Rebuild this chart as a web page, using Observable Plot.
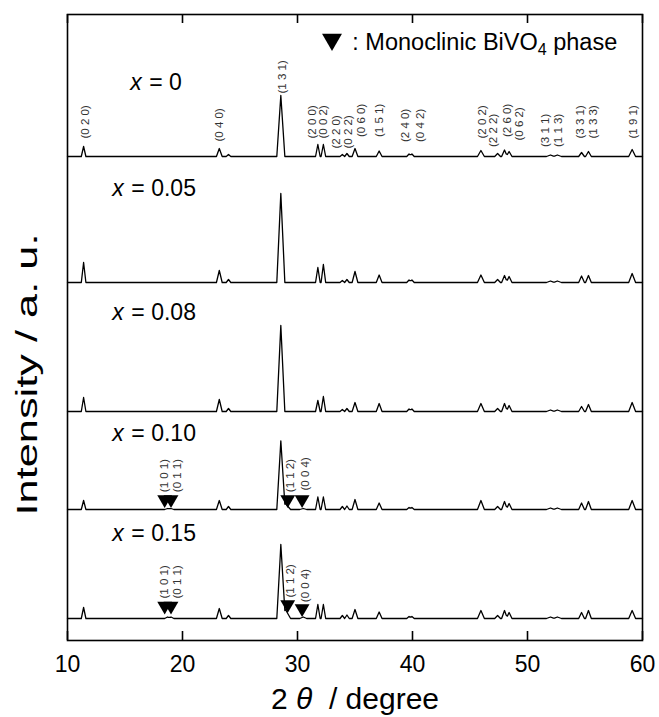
<!DOCTYPE html>
<html>
<head>
<meta charset="utf-8">
<script src="https://cdn.jsdelivr.net/npm/d3@7"></script>
<script src="https://cdn.jsdelivr.net/npm/@observablehq/plot@0.6"></script>
<style>
  body { margin: 0; background: #fff; }
  #chart { width: 659px; height: 717px; overflow: hidden; }
</style>
</head>
<body>
<div id="chart"></div>
<script>
// ---------- data ----------
const samples = ["x = 0", "x = 0.05", "x = 0.08", "x = 0.10", "x = 0.15"];
const sampleValues = ["= 0", "= 0.05", "= 0.08", "= 0.10", "= 0.15"];
// stacking offset (baseline) of each pattern, a.u.
const offsets = [484, 358, 229, 131, 22];
// position of each sample label (2θ start, a.u.)
const labelX = [15.45, 13.9, 13.9, 13.9, 13.9];
const labelY = [558, 452, 328, 207, 107];

// scheelite-type reflections (2θ, degree) and half base width (degree)
const peakPos   = [11.4, 23.2, 24.0, 28.55, 31.77, 32.25, 33.9, 34.3, 35.0, 37.1, 39.7, 39.95, 45.95, 47.4, 48.0, 48.4, 52.0, 52.6, 54.7, 55.3, 59.1];
const peakHalfW = [0.2, 0.25, 0.2, 0.35, 0.2, 0.2, 0.2, 0.2, 0.25, 0.25, 0.2, 0.2, 0.3, 0.25, 0.25, 0.25, 0.35, 0.35, 0.25, 0.25, 0.3];
const I_x000 = [10, 8, 2, 61, 12, 12, 2, 3, 8, 5.5, 2.5, 2.5, 6, 3, 6.5, 5, 1.5, 1.5, 4, 5, 7];
const I_x005 = [20, 12, 3, 89, 15, 18, 2, 3, 11, 7.5, 2.5, 2.5, 7.5, 3, 7, 6, 1.5, 1.5, 6.5, 7, 9];
const I_x008 = [14, 12, 3, 86, 11, 15, 2, 3, 9, 8, 2.5, 2.5, 8, 3, 8, 6, 1.5, 1.5, 5, 7, 9];
const I_x010 = [9, 9, 3, 68, 12.5, 12.5, 3, 3.5, 10, 6.5, 2, 2, 9, 3, 8, 6, 1.5, 1.5, 6.5, 8, 9];
const I_x015 = [11, 10, 3, 73, 14, 14, 3, 3.5, 9, 6.5, 2, 2, 8, 3, 8, 6, 1.5, 1.5, 6, 8, 8];
const intensities = [I_x000, I_x005, I_x008, I_x010, I_x015];

// monoclinic BiVO4 reflections (101), (011), (112), (004)
const monoPos   = [18.7, 19.0, 28.95, 30.5];
const monoHalfW = [0.25, 0.25, 0.45, 0.3];
const monoI = [null, null, null, [1, 1, 6, 1], [1.5, 1.5, 9, 1.5]];

// hkl labels of x = 0 (2θ of label, height of label foot above baseline, a.u.)
const hklText = ["(0 2 0)", "(0 4 0)", "(1 3 1)", "(2 0 0)", "(0 0 2)", "(2 2 0)", "(0 2 2)", "(0 6 0)", "(1 5 1)", "(2 4 0)", "(0 4 2)", "(2 0 2)", "(2 2 2)", "(2 6 0)", "(0 6 2)", "(3 1 1)", "(1 1 3)", "(3 3 1)", "(1 3 3)", "(1 9 1)"];
const hklX = [11.54, 23.22, 28.64, 31.25, 32.26, 33.41, 34.41, 35.58, 37.13, 39.37, 40.67, 46.03, 47.04, 48.21, 49.30, 51.54, 52.70, 54.58, 55.74, 59.22];
const hklH = [18, 15, 63, 18, 18, 8, 8, 19.5, 19.5, 14.5, 14.5, 18, 9.5, 19.5, 16, 9.5, 9.5, 18, 18, 18];

// monoclinic markers and labels for x = 0.10 and x = 0.15
const monoText = ["(1 0 1)", "(0 1 1)", "(1 1 2)", "(0 0 4)"];
const monoLabelX = [18.42, 19.51, 29.37, 30.67];
const monoLabelH = [null, null, null, [17.3, 17.3, 17.3, 19], [20, 20, 21, 16.3]];
const markerX = [18.45, 19.0, 29.15, 30.4];
const markerH = [null, null, null, [10, 10, 10, 10], [12.5, 12.5, 14, 10]];

const xTicks = [10, 20, 30, 40, 50, 60];
const yDomain = [0, 626];
const legendText = "Monoclinic BiVO4 phase";
const xTitle = "2 θ  / degree";
const yTitle = "Intensity / a. u.";

// ---------- build traces (piecewise-linear peak profiles) ----------
const traces = [];
samples.forEach((s, k) => {
  const peaks = peakPos.map((p, i) => ({p, w: peakHalfW[i], h: intensities[k][i]}));
  if (monoI[k]) monoPos.forEach((p, i) => peaks.push({p, w: monoHalfW[i], h: monoI[k][i]}));
  const xs = new Set([10, 60]);
  peaks.forEach(({p, w}) => { xs.add(p - w); xs.add(p); xs.add(p + w); });
  Array.from(xs).sort((a, b) => a - b).forEach(x => {
    let y = 0;
    peaks.forEach(({p, w, h}) => { const d = Math.abs(x - p); if (d < w) y += h * (1 - d / w); });
    traces.push({sample: s, x, y: offsets[k] + y});
  });
});

const hkl = hklText.map((t, i) => ({t, x: hklX[i], y: offsets[0] + hklH[i]}));
const monoLabels = [], markers = [];
samples.forEach((s, k) => {
  if (!monoLabelH[k]) return;
  monoText.forEach((t, i) => monoLabels.push({t, x: monoLabelX[i], y: offsets[k] + monoLabelH[k][i]}));
  markerX.forEach((x, i) => markers.push({x, y: offsets[k] + markerH[k][i]}));
});
const sampleLabels = samples.map((s, k) => ({x: labelX[k], y: labelY[k], v: sampleValues[k]}));

const font = "'Liberation Sans', Arial, Helvetica, sans-serif";
const tickLen = 9; // inward tick length (1 a.u. = 1 px here)

const chart = Plot.plot({
  width: 659,
  height: 717,
  marginLeft: 67,
  marginRight: 17,
  marginTop: 14,
  marginBottom: 77,
  style: {fontFamily: font, background: "#fff", color: "#000"},
  x: {domain: [10, 60], axis: null},
  y: {domain: yDomain, axis: null},
  marks: [
    Plot.line(traces, {x: "x", y: "y", z: "sample", stroke: "#000", strokeWidth: 1.3}),
    Plot.text(hkl, {x: "x", y: "y", text: "t", rotate: -90, textAnchor: "start", fontSize: 11.5, fill: "#333"}),
    Plot.text(monoLabels, {x: "x", y: "y", text: "t", rotate: -90, textAnchor: "start", fontSize: 11.5, fill: "#333"}),
    Plot.dot(markers, {x: "x", y: "y", symbol: "triangle", r: 5.5, rotate: 180, fill: "#000", stroke: "none"}),
    Plot.text(sampleLabels, {x: "x", y: "y", text: () => "x", textAnchor: "start", fontSize: 23, fontStyle: "italic"}),
    Plot.text(sampleLabels, {x: "x", y: "y", text: "v", textAnchor: "start", dx: 19, fontSize: 23}),
    // legend
    Plot.dot([{x: 33.0, y: 601}], {x: "x", y: "y", symbol: "triangle", r: 7.4, rotate: 180, fill: "#000", stroke: "none"}),
    Plot.text([{x: 34.75, y: 598}], {x: "x", y: "y", text: () => ":", textAnchor: "start", fontSize: 23}),
    Plot.text([{x: 35.9, y: 598}], {x: "x", y: "y", text: () => legendText, textAnchor: "start", fontSize: 23.5}),
    // axes: inward ticks top and bottom, labels below
    Plot.ruleX(xTicks, {x: d => d, y1: yDomain[0], y2: yDomain[0] + tickLen, stroke: "#000", strokeWidth: 1.6}),
    Plot.ruleX(xTicks, {x: d => d, y1: yDomain[1] - tickLen, y2: yDomain[1], stroke: "#000", strokeWidth: 1.6}),
    Plot.frame({stroke: "#000", strokeWidth: 1.6}),
    Plot.axisX({anchor: "bottom", ticks: xTicks, tickSize: 0, tickPadding: 15, fontSize: 23, label: null}),
    Plot.text([xTitle], {frameAnchor: "bottom", dy: 68, fontSize: 30}),
    Plot.text([yTitle], {frameAnchor: "left", textAnchor: "middle", rotate: -90, dx: -40, dy: 47, fontSize: 29})
  ]
});

// rich text: subscript in BiVO4, italic θ, stretched y title
d3.select(chart).selectAll("text").each(function() {
  const el = d3.select(this);
  const t = this.textContent;
  if (t === legendText) {
    el.text(null);
    el.append("tspan").text("Monoclinic BiVO");
    el.append("tspan").attr("font-size", 16).attr("dy", 5).text("4");
    el.append("tspan").attr("dy", -5).text(" phase");
  } else if (t === xTitle) {
    el.text(null);
    el.append("tspan").text("2 ");
    el.append("tspan").attr("font-style", "italic").text("θ");
    el.append("tspan").text("  / degree");
  } else if (t === yTitle) {
    el.attr("textLength", 282).attr("lengthAdjust", "spacingAndGlyphs");
  }
});
document.getElementById("chart").append(chart);
</script>
</body>
</html>
